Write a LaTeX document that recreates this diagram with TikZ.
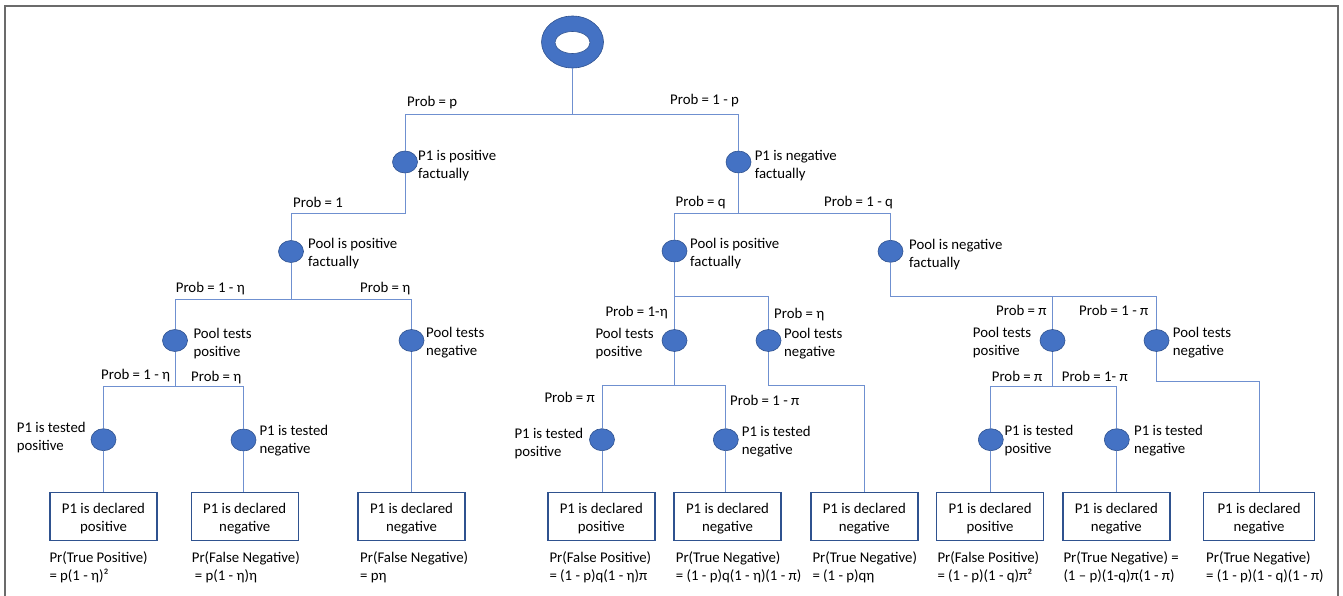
\documentclass[tikz,border=0pt]{standalone}
\usepackage{fontspec}
\setmainfont{Carlito}
\usetikzlibrary{shapes.geometric}
\definecolor{nodeblue}{HTML}{4472C4}
\definecolor{darkblue}{HTML}{2F528F}
\definecolor{lineblue}{HTML}{6F90D0}
\definecolor{framegray}{HTML}{6B6B6B}
\newcommand\bxup{\rule{0pt}{14.4pt}}
\begin{document}
\begin{tikzpicture}[x=1pt,y=-1pt,
  dot/.style={ellipse, fill=nodeblue, draw=darkblue, line width=0.6pt, minimum width=25pt, minimum height=22pt, inner sep=0pt},
  lbl/.style={anchor=base west, inner sep=0pt, font=\fontsize{14.8}{18}\selectfont},
  txt/.style={anchor=west, inner sep=0pt, align=left, font=\fontsize{14.8}{18}\selectfont, yshift=-1.8pt},
  res/.style={anchor=west, inner sep=0pt, align=left, font=\fontsize{14.8}{18}\selectfont, yshift=-1.5pt},
  outcome/.style={draw=darkblue, line width=1.4pt, minimum width=107pt, minimum height=48pt, align=center, inner sep=0pt, font=\fontsize{14.8}{18}\selectfont},
  conn/.style={draw=lineblue, line width=0.9pt},
]
\useasboundingbox (0,0) rectangle (1343,596);
% frame
\draw[framegray, line width=2pt] (5,605) -- (5,6) -- (1337.5,6) -- (1337.5,605);

% root
\node[ellipse, fill=nodeblue, draw=darkblue, line width=0.6pt, minimum width=62pt, minimum height=52pt, inner sep=0pt] (root) at (572.5,42) {};
\node[ellipse, fill=white, draw=darkblue, line width=0.6pt, minimum width=35pt, minimum height=22pt, inner sep=0pt] (rootin) at (572.5,42.5) {};

% circles
\node[dot] (c1p) at (405,162) {};
\node[dot] (c1n) at (738.5,162) {};
\node[dot] (c2pl) at (291,251.5) {};
\node[dot] (c2pr) at (674.5,251) {};
\node[dot] (c2n) at (890.5,251.3) {};
\node[dot] (c3pl) at (175,340.5) {};
\node[dot] (c3nl) at (411.5,340.5) {};
\node[dot] (c3pm) at (674.5,340.5) {};
\node[dot] (c3nm) at (768.5,340.5) {};
\node[dot] (c3pr) at (1052.5,340.5) {};
\node[dot] (c3nr) at (1156.5,340.5) {};
\node[dot] (c4a) at (103.5,439.7) {};
\node[dot] (c4b) at (243.5,440) {};
\node[dot] (c4c) at (602,439.7) {};
\node[dot] (c4d) at (725.8,439.7) {};
\node[dot] (c4e) at (990.8,439.7) {};
\node[dot] (c4f) at (1116.8,439.7) {};

% outcome boxes
\node[outcome] (o1) at (103.5,516.7) {\bxup P1 is declared\\positive};
\node[outcome] (o2) at (244.7,516.7) {\bxup P1 is declared\\negative};
\node[outcome] (o3) at (411.5,516.7) {\bxup P1 is declared\\negative};
\node[outcome] (o4) at (601.3,516.7) {\bxup P1 is declared\\positive};
\node[outcome] (o5) at (727.5,516.7) {\bxup P1 is declared\\negative};
\node[outcome] (o6) at (864.3,516.7) {\bxup P1 is declared\\negative};
\node[outcome] (o7) at (990,516.7) {\bxup P1 is declared\\positive};
\node[outcome] (o8) at (1116.3,516.7) {\bxup P1 is declared\\negative};
\node[outcome, minimum width=111pt] (o9) at (1259,516.7) {\bxup P1 is declared\\negative};

% bar coordinates
\coordinate (b0) at (572.5,114.5);
\coordinate (b1p) at (405,213);
\coordinate (b1n) at (738.5,213);
\coordinate (b2pl) at (291,299);
\coordinate (b2pr) at (674.5,296);
\coordinate (b2n) at (890.5,296);
\coordinate (b3pl) at (175,386);
\coordinate (b3pm) at (674.5,385);
\coordinate (b3nm) at (768.5,385);
\coordinate (b3pr) at (1052.5,386);
\coordinate (b3nr) at (1156.5,381.7);

% connectors
\draw[conn] (root) -- (b0) -| (c1p);
\draw[conn] (b0) -| (c1n);
\draw[conn] (c1p) -- (b1p) -| (c2pl);
\draw[conn] (c1n) -- (b1n) -| (c2pr);
\draw[conn] (b1n) -| (c2n);
\draw[conn] (c2pl) -- (b2pl) -| (c3pl);
\draw[conn] (b2pl) -| (c3nl);
\draw[conn] (c2pr) -- (b2pr) -| (c3pm);
\draw[conn] (b2pr) -| (c3nm);
\draw[conn] (c2n) -- (b2n) -| (c3pr);
\draw[conn] (b2n) -| (c3nr);
\draw[conn] (c3pl) -- (b3pl) -| (c4a);
\draw[conn] (b3pl) -| (c4b);
\draw[conn] (c3nl) -- (c3nl |- o3.north);
\draw[conn] (c3pm) -- (b3pm) -| (c4c);
\draw[conn] (b3pm) -| (c4d);
\draw[conn] (c3nm) -- (b3nm) -| (o6);
\draw[conn] (c3pr) -- (b3pr) -| (c4e);
\draw[conn] (b3pr) -| (c4f);
\draw[conn] (c3nr) -- (b3nr) -| (o9);
\draw[conn] (c4a) -- (c4a |- o1.north);
\draw[conn] (c4b) -- (c4b |- o2.north);
\draw[conn] (c4c) -- (c4c |- o4.north);
\draw[conn] (c4d) -- (c4d |- o5.north);
\draw[conn] (c4e) -- (c4e |- o7.north);
\draw[conn] (c4f) -- (c4f |- o8.north);

% edge labels
\node[lbl] (l1) at (407,106.2) {Prob = p};
\node[lbl] (l2) at (670,104.5) {Prob = 1 - p};
\node[lbl] (l3) at (293,207.5) {Prob = 1};
\node[lbl] (l4) at (675.5,206.5) {Prob = q};
\node[lbl] (l5) at (824,206.5) {Prob = 1 - q};
\node[lbl] (l6) at (175.7,292.8) {Prob = 1 - η};
\node[lbl] (l7) at (360,292.5) {Prob = η};
\node[lbl] (l8) at (101,379.5) {Prob = 1 - η};
\node[lbl] (l9) at (191,381.5) {Prob = η};
\node[lbl] (l10) at (605.3,316.2) {Prob = 1-η};
\node[lbl] (l11) at (774,318.2) {Prob = η};
\node[lbl] (l12) at (544.3,402.8) {Prob = π};
\node[lbl] (l13) at (730,405.2) {Prob = 1 - π};
\node[lbl] (l14) at (996,315.2) {Prob = π};
\node[lbl] (l15) at (1079,315.2) {Prob = 1 - π};
\node[lbl] (l16) at (991.7,381.2) {Prob = π};
\node[lbl] (l17) at (1061.7,381.5) {Prob = 1- π};

% circle texts
\node[txt] (t1p) at (418,164) {P1 is positive\\factually};
\node[txt] (t1n) at (754.6,164) {P1 is negative\\factually};
\node[txt] (t2pl) at (308,252) {Pool is positive\\factually};
\node[txt] (t2pr) at (690,252) {Pool is positive\\factually};
\node[txt] (t2n) at (909,253) {Pool is negative\\factually};
\node[txt] (t3pl) at (193.3,341.3) {Pool tests\\positive};
\node[txt] (t3nl) at (426,341) {Pool tests\\negative};
\node[txt] (t3pm) at (595.3,341.3) {Pool tests\\positive};
\node[txt] (t3nm) at (784,341.8) {Pool tests\\negative};
\node[txt] (t3pr) at (972.7,341) {Pool tests\\positive};
\node[txt] (t3nr) at (1172.7,341) {Pool tests\\negative};
\node[txt] (t4a) at (16.7,435.7) {P1 is tested\\positive};
\node[txt] (t4b) at (259.3,439) {P1 is tested\\negative};
\node[txt] (t4c) at (514.3,441.3) {P1 is tested\\positive};
\node[txt] (t4d) at (741.7,439.7) {P1 is tested\\negative};
\node[txt] (t4e) at (1004.3,439) {P1 is tested\\positive};
\node[txt] (t4f) at (1134,439) {P1 is tested\\negative};

% probability results
\node[res] (r1) at (49.3,566) {Pr(True Positive)\\= p(1 - η)²};
\node[res] (r2) at (191.7,566) {Pr(False Negative)\\\hspace*{3pt}= p(1 - η)η};
\node[res] (r3) at (360,566) {Pr(False Negative)\\= pη};
\node[res] (r4) at (549.3,566) {Pr(False Positive)\\= (1 - p)q(1 - η)π};
\node[res] (r5) at (675.7,566) {Pr(True Negative)\\= (1 - p)q(1 - η)(1 - π)};
\node[res] (r6) at (812.3,566) {Pr(True Negative)\\= (1 - p)qη};
\node[res] (r7) at (937.3,566) {Pr(False Positive)\\= (1 - p)(1 - q)π²};
\node[res] (r8) at (1063.3,566) {Pr(True Negative) =\\(1 – p)(1-q)π(1 - π)};
\node[res] (r9) at (1206,566) {Pr(True Negative)\\= (1 - p)(1 - q)(1 - π)};
\end{tikzpicture}
\end{document}
